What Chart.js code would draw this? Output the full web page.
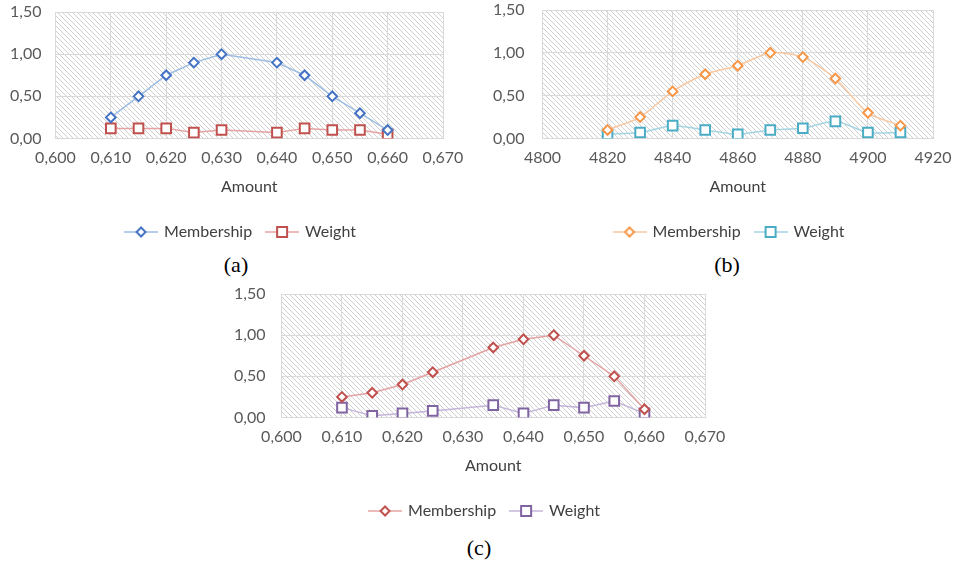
<!DOCTYPE html>
<html>
<head>
<meta charset="utf-8">
<script src="https://cdn.jsdelivr.net/npm/chart.js@4/dist/chart.umd.min.js"></script>
<style>
  html, body { margin: 0; padding: 0; background: #fff; width: 960px; height: 565px; overflow: hidden; }
  #wrap { position: relative; width: 960px; height: 565px; overflow: hidden; }
  canvas { position: absolute; }
  .cap { position: absolute; font-family: "Liberation Serif", "DejaVu Serif", serif; font-size: 22px; color: #000; transform: translate(-50%, -50%); white-space: nowrap; }
</style>
</head>
<body>
<div id="wrap">
  <canvas id="ca" width="482" height="250" style="left:0px;top:0px;"></canvas>
  <canvas id="cb" width="479" height="250" style="left:490px;top:0px;"></canvas>
  <canvas id="cc" width="510" height="249" style="left:230px;top:280px;"></canvas>
  <div class="cap" style="left:236px;top:265px;">(a)</div>
  <div class="cap" style="left:727px;top:265px;">(b)</div>
  <div class="cap" style="left:479px;top:548px;">(c)</div>
</div>
<script>
// ---------- data ----------
const seriesNames = ['Membership', 'Weight'];
const axisTitle = 'Amount';
const yTicks = [0, 0.5, 1.0, 1.5];

const xTicksA = [0.600, 0.610, 0.620, 0.630, 0.640, 0.650, 0.660, 0.670];
const amountA = [0.610, 0.615, 0.620, 0.625, 0.630, 0.640, 0.645, 0.650, 0.655, 0.660];
const membershipA = [0.25, 0.50, 0.75, 0.90, 1.00, 0.90, 0.75, 0.50, 0.30, 0.10];
const weightA = [0.12, 0.12, 0.12, 0.07, 0.10, 0.07, 0.12, 0.10, 0.10, 0.05];

const xTicksB = [4800, 4820, 4840, 4860, 4880, 4900, 4920];
const amountB = [4820, 4830, 4840, 4850, 4860, 4870, 4880, 4890, 4900, 4910];
const membershipB = [0.10, 0.25, 0.55, 0.75, 0.85, 1.00, 0.95, 0.70, 0.30, 0.15];
const weightB = [0.05, 0.07, 0.15, 0.10, 0.05, 0.10, 0.12, 0.20, 0.07, 0.07];

const xTicksC = [0.600, 0.610, 0.620, 0.630, 0.640, 0.650, 0.660, 0.670];
const amountC = [0.610, 0.615, 0.620, 0.625, 0.635, 0.640, 0.645, 0.650, 0.655, 0.660];
const membershipC = [0.25, 0.30, 0.40, 0.55, 0.85, 0.95, 1.00, 0.75, 0.50, 0.10];
const weightC = [0.12, 0.02, 0.05, 0.08, 0.15, 0.05, 0.15, 0.12, 0.20, 0.05];

// ---------- helpers ----------
const FONT = 'Lato, "Open Sans", "Liberation Sans", sans-serif';
const FS = 16;
const TXT = '#595959';
const GRID = '#d9d9d9';

function hatchPattern(ctx) {
  const c = document.createElement('canvas');
  c.width = 5; c.height = 5;
  const g = c.getContext('2d');
  g.fillStyle = '#ffffff';
  g.fillRect(0, 0, 5, 5);
  g.strokeStyle = '#d0d0d0';
  g.lineWidth = 1;
  g.beginPath();
  g.moveTo(-1, -1); g.lineTo(6, 6);
  g.moveTo(-6, -1); g.lineTo(1, 6);
  g.moveTo(4, -1); g.lineTo(11, 6);
  g.stroke();
  return ctx.createPattern(c, 'repeat');
}

const hatchPlugin = {
  id: 'hatch',
  beforeDraw(chart) {
    const {ctx, chartArea: a} = chart;
    ctx.save();
    ctx.fillStyle = hatchPattern(ctx);
    ctx.fillRect(a.left, a.top, a.right - a.left, a.bottom - a.top);
    ctx.restore();
  }
};

const legendShift = {
  id: 'legendShift',
  afterLayout(chart, args, opts) {
    const lg = chart.legend;
    if (!lg || opts.cx == null) return;
    const w = lg.right - lg.left;
    lg.left = opts.cx - w / 2;
    lg.right = opts.cx + w / 2;
  }
};

function legendIcon(lineColor, markColor, shape) {
  const c = document.createElement('canvas');
  c.width = 34; c.height = 14;
  const g = c.getContext('2d');
  g.strokeStyle = lineColor; g.lineWidth = 1.5;
  g.beginPath(); g.moveTo(0, 7); g.lineTo(34, 7); g.stroke();
  g.fillStyle = '#fff'; g.strokeStyle = markColor; g.lineWidth = 2;
  g.beginPath();
  if (shape === 'diamond') {
    g.moveTo(17, 2.5); g.lineTo(21.5, 7); g.lineTo(17, 11.5); g.lineTo(12.5, 7); g.closePath();
  } else {
    g.rect(12, 2, 10, 10);
  }
  g.fill(); g.stroke();
  return c;
}

function makeChart(id, xs, mem, wt, xTicks, fmtX, colors, pad, tension) {
  const [memLine, memMark, wLine, wMark] = colors;
  const icons = [legendIcon(memLine, memMark, 'diamond'), legendIcon(wLine, wMark, 'square')];
  return new Chart(document.getElementById(id), {
    type: 'line',
    data: {
      datasets: [
        {
          label: seriesNames[0],
          data: xs.map((x, i) => ({x: x, y: mem[i]})),
          borderColor: memLine, borderWidth: 1.5, tension: tension,
          pointStyle: 'rectRot', pointRadius: 4.8, pointBorderWidth: 2,
          pointBorderColor: memMark, pointBackgroundColor: '#ffffff'
        },
        {
          label: seriesNames[1],
          data: xs.map((x, i) => ({x: x, y: wt[i]})),
          borderColor: wLine, borderWidth: 1.5, tension: tension,
          pointStyle: 'rect', pointRadius: 6.8, pointBorderWidth: 2,
          pointBorderColor: wMark, pointBackgroundColor: '#ffffff'
        }
      ]
    },
    options: {
      responsive: false,
      animation: false,
      devicePixelRatio: 1,
      layout: { padding: { left: pad.pl, right: pad.pr, top: pad.top, bottom: 0 } },
      plugins: {
        tooltip: { enabled: false },
        legendShift: { cx: pad.cx },
        legend: {
          position: 'bottom',
          labels: {
            usePointStyle: true,
            pointStyleWidth: 30,
            padding: 15,
            color: '#404040',
            font: { family: FONT, size: FS },
            generateLabels: (chart) => chart.data.datasets.map((d, i) => ({
              text: d.label, pointStyle: icons[i], datasetIndex: i, hidden: false,
              fillStyle: '#fff', strokeStyle: '#fff', lineWidth: 0, fontColor: '#404040'
            }))
          }
        }
      },
      scales: {
        x: {
          type: 'linear',
          min: xTicks[0], max: xTicks[xTicks.length - 1],
          afterBuildTicks: (s) => { s.ticks = xTicks.map(v => ({value: v})); },
          afterFit: (s) => { s.height = pad.xh; },
          grid: { color: GRID, lineWidth: 1, drawTicks: false },
          border: { display: false },
          ticks: { color: TXT, font: { family: FONT, size: FS }, padding: 10, maxRotation: 0, autoSkip: false,
                   callback: (v) => fmtX(v) },
          title: { display: true, text: axisTitle, color: '#404040', font: { family: FONT, size: FS },
                   padding: { top: 0, bottom: pad.tb } }
        },
        y: {
          type: 'linear',
          min: yTicks[0], max: yTicks[yTicks.length - 1],
          afterBuildTicks: (s) => { s.ticks = yTicks.map(v => ({value: v})); },
          grid: { color: GRID, lineWidth: 1, drawTicks: true, tickLength: pad.yp, tickColor: 'rgba(0,0,0,0)' },
          border: { display: false },
          ticks: { color: TXT, font: { family: FONT, size: FS }, padding: 0,
                   callback: (v) => v.toFixed(2).replace('.', ',') }
        }
      }
    },
    plugins: [hatchPlugin, legendShift]
  });
}

const fmt3 = (v) => v.toFixed(3).replace('.', ',');
const fmt0 = (v) => String(Math.round(v));

makeChart('ca', amountA, membershipA, weightA, xTicksA, fmt3,
  ['#9dbde3', '#4472c4', '#e4a3a2', '#c0504d'],
  { pl: 10, pr: 39, top: 12, xh: 70.5, tb: 13, yp: 14, cx: 241 }, 0);
makeChart('cb', amountB, membershipB, weightB, xTicksB, fmt0,
  ['#f9c7a0', '#f79646', '#a5d5e3', '#4bacc6'],
  { pl: 3, pr: 36, top: 10, xh: 70.5, tb: 13, yp: 18, cx: 239.5 }, 0.25);
makeChart('cc', amountC, membershipC, weightC, xTicksC, fmt3,
  ['#e4a3a2', '#c0504d', '#c4b5da', '#8064a2'],
  { pl: 4, pr: 35, top: 14, xh: 70.5, tb: 13, yp: 16, cx: 255 }, 0);
</script>
</body>
</html>
